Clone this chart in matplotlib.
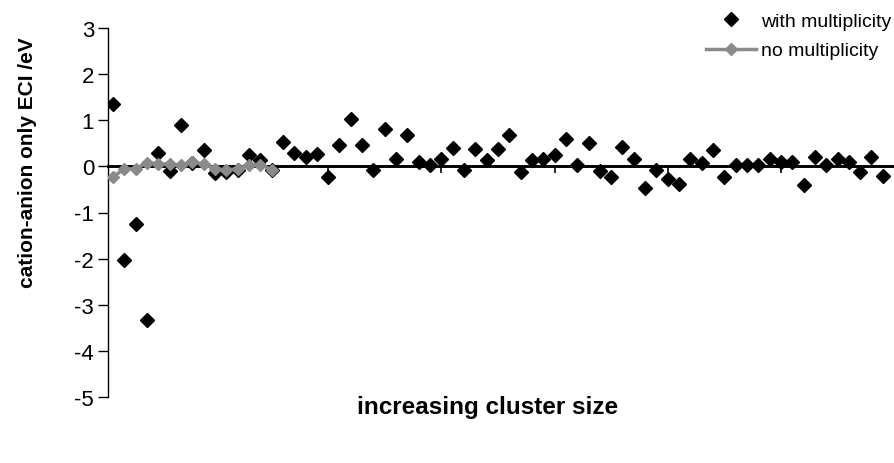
import numpy as np
import matplotlib
matplotlib.use("Agg")
import matplotlib.pyplot as plt
from matplotlib.lines import Line2D

plt.rcParams['font.family'] = ['Liberation Sans', 'DejaVu Sans']

# ECI values, one per cluster (ordered by size)
with_mult = [1.35, -2.02, -1.26, -3.33, 0.30, -0.09, 0.90, 0.08, 0.35, -0.15,
             -0.13, -0.07, 0.24, 0.13, -0.07, 0.52, 0.30, 0.20, 0.26, -0.24,
             0.46, 1.02, 0.46, -0.07, 0.80, 0.15, 0.67, 0.09, 0.02, 0.15,
             0.40, -0.07, 0.37, 0.13, 0.37, 0.67, -0.13, 0.13, 0.15, 0.24,
             0.59, 0.02, 0.50, -0.09, -0.24, 0.41, 0.15, -0.46, -0.07, -0.28,
             -0.39, 0.15, 0.08, 0.35, -0.24, 0.04, 0.04, 0.02, 0.15, 0.09,
             0.09, -0.41, 0.20, 0.02, 0.15, 0.09, -0.13, 0.20, -0.20]
no_mult = [-0.22, -0.06, -0.05, 0.08, 0.06, 0.05, 0.03, 0.10, 0.05, -0.05,
           -0.08, -0.05, 0.03, 0.04, -0.07]
yticks = [3, 2, 1, 0, -1, -2, -3, -4, -5]

x1 = np.arange(1, len(with_mult) + 1)
x2 = np.arange(1, len(no_mult) + 1)

fig = plt.figure(figsize=(8.95, 4.64), dpi=100)
ax = fig.add_axes([108 / 895, 1 - 398 / 464, 785 / 895, 369 / 464])

ax.plot(x1, with_mult, ls='none', marker='D', ms=7.5, color='black', zorder=3)
ax.plot(x2, no_mult, ls='-', lw=2.5, marker='D', ms=6.5, color='#8a8a8a',
        markeredgecolor='#8a8a8a', zorder=4)

ax.set_ylim(-5, 3)
ax.set_xlim(0.55, 69.9)
ax.set_yticks(yticks)
ax.set_yticklabels([str(t) for t in yticks], fontsize=16)

# category axis crosses at zero
ax.spines['bottom'].set_position(('data', 0))
ax.spines['bottom'].set_linewidth(2.1)
ax.spines['left'].set_linewidth(1.0)
ax.spines['top'].set_visible(False)
ax.spines['right'].set_visible(False)
ax.set_xticks([10, 20, 30, 40, 50, 60])
ax.tick_params(axis='x', direction='out', length=5, width=1.2, labelbottom=False)
ax.tick_params(axis='y', direction='out', length=7, width=1.0, pad=3)

ax.set_ylabel('cation-anion only ECI /eV', fontsize=15, fontweight='bold')
ax.yaxis.set_label_coords((37 - 108) / 785, (398 - 163) / 369)
ax.set_xlabel('increasing cluster size', fontsize=17.5, fontweight='bold')
ax.xaxis.set_label_coords((488 - 108) / 785, 2 / 369)

handles = [
    Line2D([], [], ls='none', marker='D', ms=7.5, color='black'),
    Line2D([], [], ls='-', lw=2.5, marker='D', ms=6.5, color='#8a8a8a'),
]
ax.legend(handles, ['with multiplicity', 'no multiplicity'], loc='upper left',
          bbox_to_anchor=(692 / 895, 1.0 - 0 / 464), bbox_transform=fig.transFigure,
          frameon=False, fontsize=14, handlelength=2.6, handletextpad=0.25,
          labelspacing=0.6, borderpad=0.2)

fig.savefig('out.png', dpi=100)
